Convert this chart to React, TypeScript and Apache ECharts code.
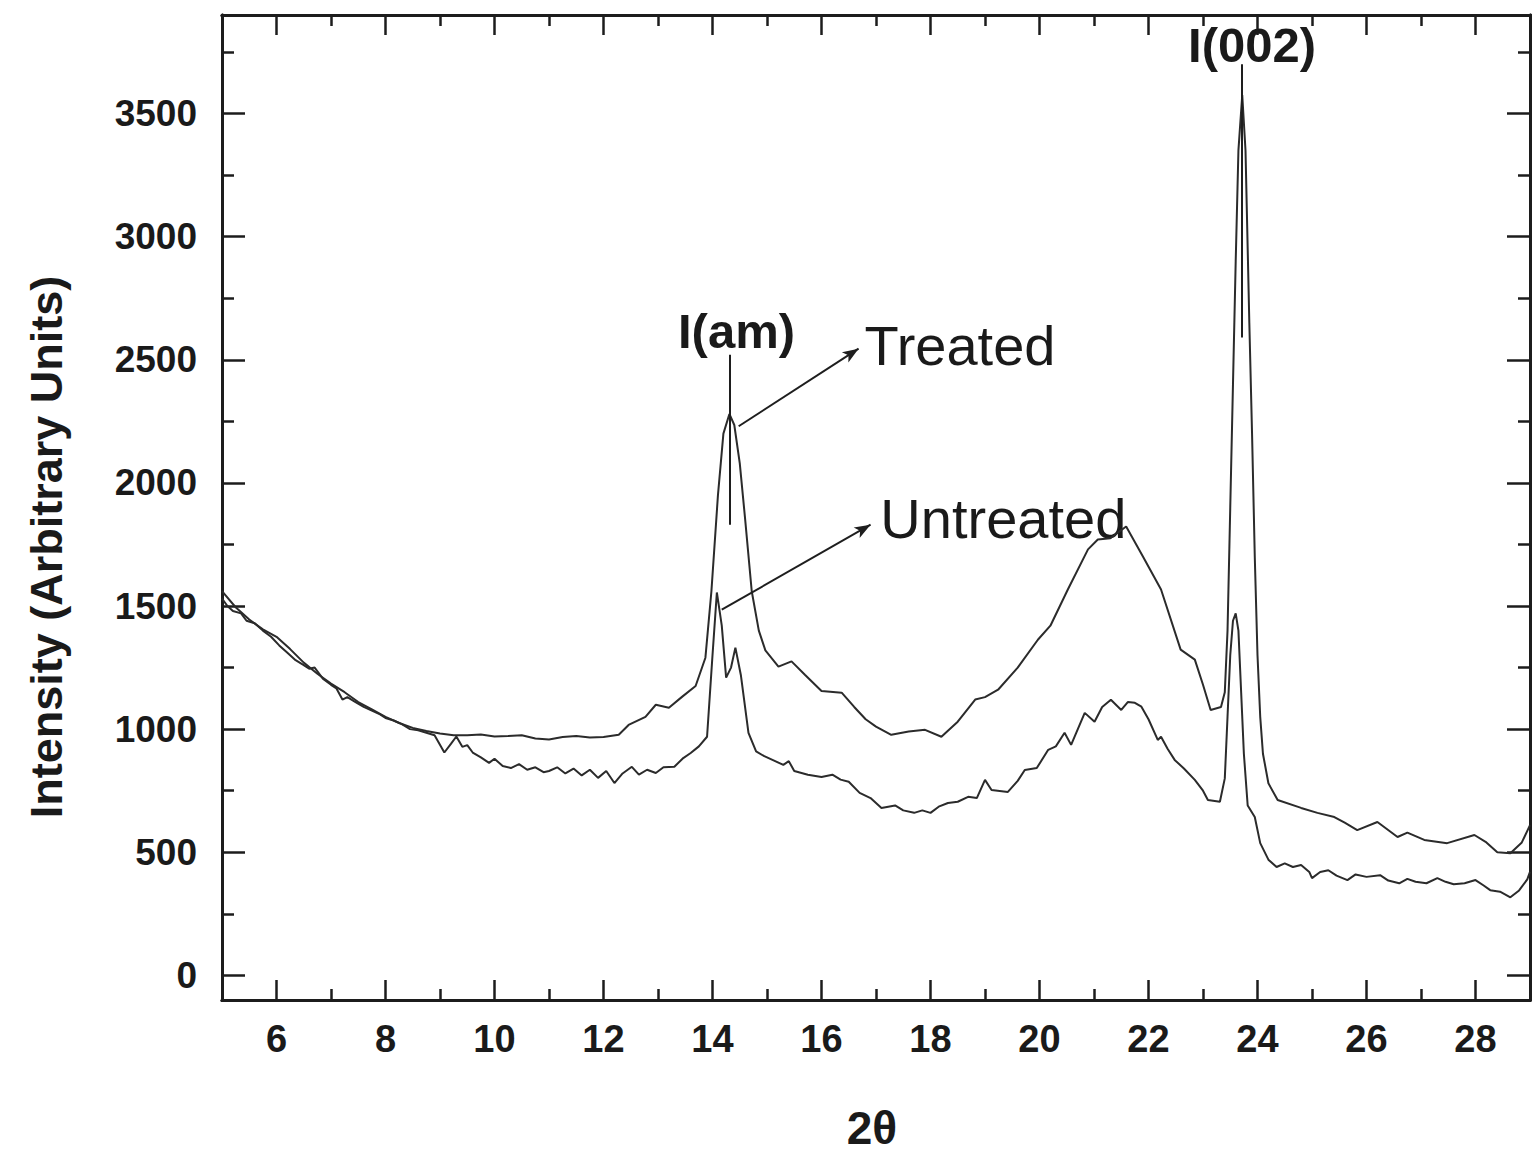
import React, { useEffect, useRef } from 'react';
import * as echarts from 'echarts';

// 2θ positions and intensities
const treatedTheta = [
  5.0, 5.25, 5.5, 5.75, 6.0, 6.25, 6.5, 6.75, 7.0, 7.25, 7.5, 7.75, 8.0, 8.25, 8.5, 8.75, 9.0, 9.25, 9.5, 9.75,
  10.0, 10.25, 10.5, 10.75, 11.0, 11.25, 11.5, 11.75, 12.0, 12.28, 12.46, 12.77, 12.96, 13.2, 13.44, 13.69, 13.87, 13.98,
  14.1, 14.2, 14.31, 14.4, 14.5, 14.6, 14.72, 14.85, 14.97, 15.21, 15.45, 15.7, 16.0, 16.37, 16.6, 16.81, 17.0, 17.28,
  17.6, 17.9, 18.2, 18.5, 18.82, 19.0, 19.24, 19.6, 19.97, 20.2, 20.52, 20.89, 21.07, 21.3, 21.59, 21.9, 22.23, 22.59,
  22.85, 23.0, 23.14, 23.33, 23.4, 23.45, 23.5, 23.55, 23.6, 23.65, 23.72, 23.78, 23.85, 23.9, 23.95, 24.0, 24.05, 24.1,
  24.2, 24.37, 24.8, 25.1, 25.41, 25.6, 25.83, 26.2, 26.57, 26.75, 27.06, 27.48, 27.98, 28.2, 28.4, 28.64, 28.85, 29.0,
];
const treatedIntensity = [
  1560, 1495, 1445, 1405, 1375, 1325, 1270, 1225, 1185, 1150, 1110, 1080, 1050, 1025, 1005, 992, 982, 975, 975, 978,
  970, 972, 975, 962, 958, 968, 972, 966, 968, 977, 1017, 1050, 1099, 1087, 1131, 1175, 1290, 1560,
  1950, 2200, 2280, 2235, 2080, 1850, 1560, 1400, 1320, 1254, 1275, 1220, 1155, 1148, 1090, 1040, 1010, 977,
  990, 997, 969, 1030, 1120, 1130, 1160, 1250, 1363, 1420, 1567, 1730, 1770, 1775, 1823, 1700, 1567, 1323,
  1282, 1180, 1078, 1090, 1150, 1400, 1900, 2400, 2900, 3350, 3575, 3350, 2650, 2200, 1700, 1300, 1050, 900,
  780, 712, 680, 660, 643, 620, 590, 623, 562, 580, 550, 537, 570, 540, 500, 496, 540, 610,
];

const untreatedTheta = [
  5.0, 5.1, 5.2, 5.35, 5.45, 5.6, 5.75, 5.9, 6.05, 6.2, 6.35, 6.5, 6.6, 6.7, 6.85, 7.0, 7.1, 7.21, 7.3, 7.45,
  7.6, 7.75, 7.9, 8.0, 8.15, 8.3, 8.45, 8.6, 8.75, 8.9, 9.08, 9.2, 9.3, 9.41, 9.5, 9.6, 9.75, 9.9, 10.0, 10.15,
  10.3, 10.45, 10.6, 10.75, 10.9, 11.0, 11.15, 11.3, 11.45, 11.6, 11.75, 11.9, 12.05, 12.2, 12.35, 12.52, 12.65, 12.8,
  12.96, 13.1, 13.3, 13.45, 13.6, 13.75, 13.9, 14.0, 14.08, 14.17, 14.25, 14.34, 14.42, 14.52, 14.66, 14.8, 14.95, 15.1,
  15.3, 15.4, 15.5, 15.75, 16.0, 16.2, 16.35, 16.5, 16.7, 16.9, 17.1, 17.35, 17.5, 17.7, 17.85, 18.0, 18.15, 18.32,
  18.5, 18.69, 18.85, 19.0, 19.12, 19.42, 19.6, 19.73, 19.95, 20.16, 20.3, 20.46, 20.58, 20.83, 21.01, 21.15, 21.31, 21.5,
  21.62, 21.75, 21.87, 22.0, 22.17, 22.23, 22.35, 22.48, 22.65, 22.85, 23.0, 23.09, 23.31, 23.4, 23.45, 23.5, 23.55, 23.6,
  23.65, 23.7, 23.75, 23.82, 23.95, 24.05, 24.2, 24.35, 24.5, 24.65, 24.8, 24.95, 25.0, 25.15, 25.3, 25.45, 25.65, 25.8,
  26.0, 26.25, 26.4, 26.6, 26.75, 26.9, 27.1, 27.3, 27.45, 27.6, 27.8, 28.0, 28.15, 28.27, 28.45, 28.64, 28.8, 28.95, 29.0,
];
const untreatedIntensity = [
  1530, 1500, 1480, 1470, 1440, 1430, 1400, 1375, 1340, 1310, 1280, 1260, 1245, 1250, 1205, 1180, 1165, 1120, 1130, 1110,
  1090, 1075, 1060, 1045, 1035, 1020, 1000, 995, 985, 975, 905, 940, 970, 928, 935, 905, 885, 863, 880, 850,
  842, 858, 835, 845, 825, 830, 845, 820, 840, 812, 835, 802, 830, 781, 820, 847, 815, 835,
  822, 845, 847, 880, 903, 930, 969, 1300, 1555, 1420, 1209, 1250, 1331, 1220, 985, 910, 890, 875,
  855, 870, 830, 815, 806, 815, 795, 786, 741, 720, 680, 690, 670, 660, 670, 660, 685, 700,
  705, 725, 720, 794, 753, 745, 790, 834, 842, 916, 930, 985, 936, 1066, 1030, 1090, 1119, 1078,
  1110, 1107, 1091, 1040, 956, 969, 920, 875, 840, 794, 750, 712, 705, 800, 1050, 1300, 1440, 1470,
  1400, 1150, 900, 690, 643, 537, 470, 440, 455, 440, 448, 420, 395, 420, 427, 405, 387, 410,
  400, 407, 385, 374, 392, 380, 374, 395, 380, 370, 374, 387, 365, 346, 340, 317, 345, 390, 420,
];

// Axis ticks
const xMajorTicks = [6, 8, 10, 12, 14, 16, 18, 20, 22, 24, 26, 28];
const xMinorTicks = [7, 9, 11, 13, 15, 17, 19, 21, 23, 25, 27];
const yMajorTicks = [0, 500, 1000, 1500, 2000, 2500, 3000, 3500];
const yMinorTicks = [250, 750, 1250, 1750, 2250, 2750, 3250, 3750];

// Annotations (data coordinates)
const peakLabels = [
  { text: 'I(am)', x: 14.44, y: 2617 },
  { text: 'I(002)', x: 23.9, y: 3777 },
];
const peakMarkers = [
  { x: 14.31, from: 1830, to: 2520 },
  { x: 23.72, from: 2590, to: 3700 },
];
const seriesArrows = [
  { name: 'Treated', from: [14.48, 2230], to: [16.68, 2545], labelAt: [16.79, 2556] },
  { name: 'Untreated', from: [14.17, 1485], to: [16.9, 1830], labelAt: [17.08, 1856] },
];

const X_MIN = 5;
const X_MAX = 29;
const Y_MIN = -100;
const Y_MAX = 3900;

export default function App() {
  const ref = useRef<HTMLDivElement>(null);

  useEffect(() => {
    if (!ref.current) return;
    const chart = echarts.init(ref.current, null, { renderer: 'svg' });
    const axisColor = '#1c1c1c';
    const lineColor = '#2b2b2b';
    const font = "'Liberation Sans', Arial, Helvetica, sans-serif";

    const mkX = (position: string, ticks: number[], len: number, labels: boolean) => ({
      type: 'value',
      min: X_MIN,
      max: X_MAX,
      position,
      splitNumber: 12,
      axisLine: { show: true, onZero: false, lineStyle: { color: axisColor, width: 3 } },
      axisTick: { show: true, inside: true, length: len, customValues: ticks, lineStyle: { color: axisColor, width: 2.5 } },
      axisLabel: labels
        ? {
            show: true,
            customValues: ticks,
            margin: 20,
            fontSize: 38,
            fontWeight: 'bold',
            color: '#1a1a1a',
            fontFamily: font,
            formatter: (v: number) => String(v),
          }
        : { show: false },
      splitLine: { show: false },
    });
    const mkY = (position: string, ticks: number[], len: number, labels: boolean) => ({
      type: 'value',
      min: Y_MIN,
      max: Y_MAX,
      position,
      splitNumber: 8,
      axisLine: { show: true, onZero: false, lineStyle: { color: axisColor, width: 3 } },
      axisTick: { show: true, inside: true, length: len, customValues: ticks, lineStyle: { color: axisColor, width: 2.5 } },
      axisLabel: labels
        ? {
            show: true,
            customValues: ticks,
            margin: 25,
            fontSize: 37,
            fontWeight: 'bold',
            color: '#1a1a1a',
            fontFamily: font,
            formatter: (v: number) => String(v),
          }
        : { show: false },
      splitLine: { show: false },
    });

    const markLineData: any[] = [];
    peakMarkers.forEach((m) => {
      markLineData.push([
        { coord: [m.x, m.from], symbol: 'none' },
        { coord: [m.x, m.to], symbol: 'none' },
      ]);
    });
    seriesArrows.forEach((a) => {
      markLineData.push([
        { coord: a.from, symbol: 'none' },
        { coord: a.to, symbol: 'arrow', symbolSize: [9, 16] },
      ]);
    });

    chart.setOption({
      animation: false,
      backgroundColor: '#ffffff',
      grid: { left: 222, right: 3, top: 15, bottom: 156, containLabel: false },
      xAxis: [
        mkX('bottom', xMajorTicks, 20, true),
        mkX('bottom', xMinorTicks, 11, false),
        mkX('top', xMajorTicks, 20, false),
        mkX('top', xMinorTicks, 11, false),
      ],
      yAxis: [
        mkY('left', yMajorTicks, 23, true),
        mkY('left', yMinorTicks, 12, false),
        mkY('right', yMajorTicks, 23, false),
        mkY('right', yMinorTicks, 12, false),
      ],
      series: [
        {
          name: 'Treated',
          type: 'line',
          xAxisIndex: 0,
          yAxisIndex: 0,
          data: treatedTheta.map((x, i) => [x, treatedIntensity[i]]),
          showSymbol: false,
          symbol: 'none',
          silent: true,
          lineStyle: { color: lineColor, width: 2 },
          markLine: {
            silent: true,
            animation: false,
            symbol: ['none', 'none'],
            label: { show: false },
            lineStyle: { color: '#1e1e1e', width: 2, type: 'solid' },
            emphasis: { disabled: true },
            data: markLineData,
          },
        },
        {
          name: 'Untreated',
          type: 'line',
          xAxisIndex: 0,
          yAxisIndex: 0,
          data: untreatedTheta.map((x, i) => [x, untreatedIntensity[i]]),
          showSymbol: false,
          symbol: 'none',
          silent: true,
          lineStyle: { color: lineColor, width: 2 },
        },
      ],
    });

    const toPx = (x: number, y: number) => chart.convertToPixel({ seriesIndex: 0 }, [x, y]) as number[];
    const graphics: any[] = [];
    peakLabels.forEach((l) => {
      const p = toPx(l.x, l.y);
      graphics.push({
        type: 'text',
        x: p[0],
        y: p[1],
        silent: true,
        style: {
          text: l.text,
          fontSize: 49,
          fontWeight: 'bold',
          fontFamily: font,
          fill: '#1a1a1a',
          textAlign: 'center',
          textVerticalAlign: 'middle',
        },
      });
    });
    seriesArrows.forEach((a) => {
      const p = toPx(a.labelAt[0], a.labelAt[1]);
      graphics.push({
        type: 'text',
        x: p[0],
        y: p[1],
        silent: true,
        style: {
          text: a.name,
          fontSize: 56,
          fontWeight: 'normal',
          fontFamily: font,
          fill: '#1a1a1a',
          textAlign: 'left',
          textVerticalAlign: 'middle',
        },
      });
    });
    graphics.push({
      type: 'text',
      x: 46,
      y: 547,
      rotation: Math.PI / 2,
      silent: true,
      style: {
        text: 'Intensity (Arbitrary Units)',
        fontSize: 45,
        fontWeight: 'bold',
        fontFamily: font,
        fill: '#1a1a1a',
        textAlign: 'center',
        textVerticalAlign: 'middle',
      },
    });
    graphics.push({
      type: 'text',
      x: 872,
      y: 1128,
      silent: true,
      style: {
        text: '2θ',
        fontSize: 46,
        fontWeight: 'bold',
        fontFamily: font,
        fill: '#1a1a1a',
        textAlign: 'center',
        textVerticalAlign: 'middle',
      },
    });
    chart.setOption({ graphic: graphics });

    return () => {
      chart.dispose();
    };
  }, []);

  return (
    <div
      ref={ref}
      style={{ position: 'absolute', left: 0, top: 0, width: 1533, height: 1156, background: '#fff' }}
    />
  );
}
